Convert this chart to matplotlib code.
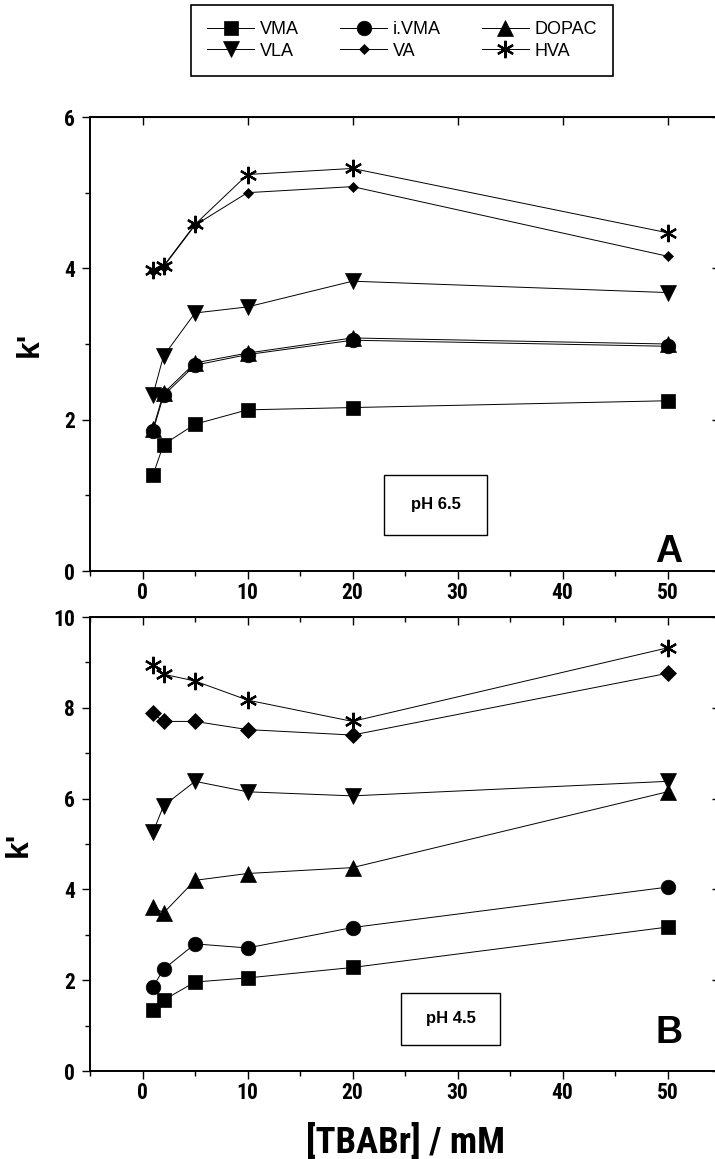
import numpy as np
import matplotlib
matplotlib.use("Agg")
import matplotlib.pyplot as plt
from matplotlib.patches import Rectangle
from matplotlib.ticker import MultipleLocator

plt.rcParams['font.family'] = ['Roboto Condensed', 'DejaVu Sans']
plt.rcParams['font.weight'] = 'bold'

## data
conc = [1, 2, 5, 10, 20, 50]          # [TBABr] (mM)
names = ['VMA', 'i.VMA', 'DOPAC', 'VLA', 'VA', 'HVA']

# panel A, pH 6.5
vma_a = [1.27, 1.67, 1.94, 2.13, 2.16, 2.25]
ivma_a = [1.85, 2.32, 2.72, 2.86, 3.05, 2.97]
dopac_a = [1.88, 2.35, 2.75, 2.88, 3.08, 3.00]
vla_a = [2.33, 2.84, 3.41, 3.49, 3.83, 3.68]
va_a = [3.97, 4.02, 4.57, 5.00, 5.08, 4.16]
hva_a = [3.98, 4.03, 4.58, 5.24, 5.32, 4.47]

# panel B, pH 4.5
vma_b = [1.34, 1.56, 1.96, 2.05, 2.28, 3.17]
ivma_b = [1.85, 2.24, 2.80, 2.71, 3.16, 4.05]
dopac_b = [3.62, 3.48, 4.20, 4.35, 4.48, 6.15]
vla_b = [5.26, 5.84, 6.38, 6.15, 6.06, 6.38]
va_b = [7.88, 7.70, 7.70, 7.52, 7.40, 8.76]
hva_b = [8.94, 8.74, 8.59, 8.17, 7.70, 9.32]

markers = {'VMA': ('s', 10), 'i.VMA': ('o', 10.5), 'DOPAC': ('^', 12),
           'VLA': ('v', 12), 'VA': ('D', 5.5), 'HVA': ((6, 2, 0), 12.5)}

SANS = ['Liberation Sans', 'DejaVu Sans']

W, H = 715, 1159
fig = plt.figure(figsize=(W/100, H/100), dpi=100)
axA = fig.add_axes([90/W, 1-571/H, 630/W, 454/H])
axB = fig.add_axes([90/W, 1-1071/H, 630/W, 454/H])


def draw(ax, series, va_size):
    lines = []
    for name, y in zip(names, series):
        m, ms = markers[name]
        if name == 'VA':
            ms = va_size
        mew = 1.6 if name == 'HVA' else 0.5
        l, = ax.plot(conc, y, color='black', lw=0.7, marker=m, ms=ms,
                     mew=mew, mec='black', mfc='black', label=name, clip_on=False)
        lines.append(l)
    return lines


def style(ax, ymax, top_in_minor):
    ax.set_xlim(-5, 55)
    ax.set_ylim(0, ymax)
    ax.xaxis.set_major_locator(MultipleLocator(10))
    ax.xaxis.set_minor_locator(MultipleLocator(5))
    ax.yaxis.set_major_locator(MultipleLocator(2))
    ax.yaxis.set_minor_locator(MultipleLocator(1))
    for s in ax.spines.values():
        s.set_linewidth(1.4)
    ax.tick_params(axis='x', which='both', direction='out', top=False, width=1.0)
    ax.tick_params(axis='y', which='both', direction='out', right=False, width=1.0)
    ax.tick_params(which='major', length=6, labelsize=15.5)
    ax.tick_params(which='minor', length=3.5)
    ax.tick_params(axis='x', pad=2)
    ax.tick_params(axis='y', pad=5)
    for t in ax.get_xticklabels() + ax.get_yticklabels():
        t.set_fontweight('bold')
    ax.set_ylabel("k'", fontsize=23, family=SANS, fontweight='bold', labelpad=14)
    # inward ticks on top and right
    sec = ax.secondary_xaxis('top')
    sec.xaxis.set_major_locator(MultipleLocator(10))
    if top_in_minor:
        sec.xaxis.set_minor_locator(MultipleLocator(5))
    sec.tick_params(which='both', direction='in', labeltop=False, width=1.0)
    sec.tick_params(which='major', length=6)
    sec.tick_params(which='minor', length=3.5)
    secy = ax.secondary_yaxis('right')
    secy.yaxis.set_major_locator(MultipleLocator(2))
    secy.tick_params(which='both', direction='in', labelright=False, width=1.0, length=6)


linesA = draw(axA, [vma_a, ivma_a, dopac_a, vla_a, va_a, hva_a], 5.5)
draw(axB, [vma_b, ivma_b, dopac_b, vla_b, va_b, hva_b], 8.5)
style(axA, 6, False)
style(axB, 10, True)
axB.set_xlabel('[TBABr] / mM', fontsize=26.5, fontweight='bold', labelpad=14)

# pH boxes
for ax, (x0, y0, x1, y1), txt in [(axA, (384, 475, 487, 535), 'pH 6.5'),
                                  (axB, (401, 993, 500, 1045), 'pH 4.5')]:
    base = 571 if ax is axA else 1071
    fx0 = (x0 - 90) / 630
    fy0 = (base - y1) / 454
    fw = (x1 - x0) / 630
    fh = (y1 - y0) / 454
    ax.add_patch(Rectangle((fx0, fy0), fw, fh, transform=ax.transAxes,
                           fill=False, ec='black', lw=1.0))
    ax.text(fx0 + fw/2, fy0 + fh/2, txt, transform=ax.transAxes, ha='center', va='center',
            fontsize=12, family=SANS, fontweight='bold')

axA.text(0.919, 0.042, 'A', transform=axA.transAxes, ha='center', va='center',
         fontsize=27, family=SANS, fontweight='bold')
axB.text(0.919, 0.084, 'B', transform=axB.transAxes, ha='center', va='center',
         fontsize=27, family=SANS, fontweight='bold')

order = [0, 3, 1, 4, 2, 5]
leg = fig.legend([linesA[i] for i in order], [names[i] for i in order], ncol=3,
                 loc='upper left', bbox_to_anchor=(191/W, 1-5/H),
                 prop={'family': SANS, 'weight': 'normal', 'size': 13},
                 frameon=True, fancybox=False, edgecolor='black', framealpha=1,
                 handlelength=2.6, handletextpad=0.3, columnspacing=2.3,
                 labelspacing=0.25, borderpad=0.9, borderaxespad=0)
leg.get_frame().set_linewidth(1.2)

fig.savefig('out.png', dpi=100)
